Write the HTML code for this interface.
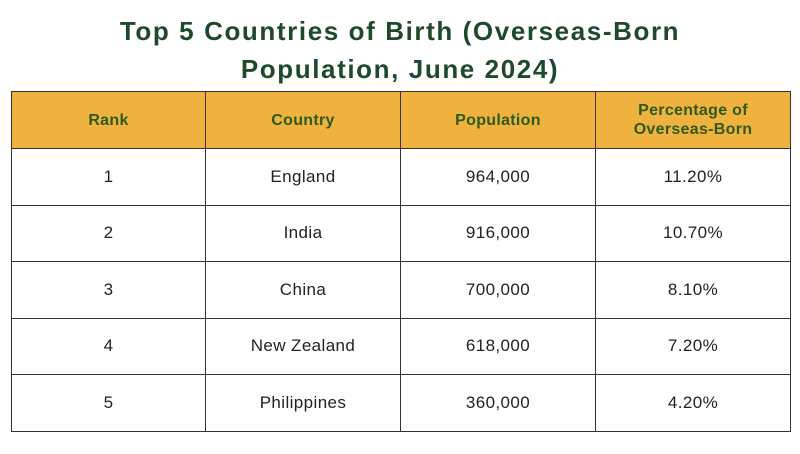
<!DOCTYPE html>
<html><head><meta charset="utf-8"><style>
html,body{margin:0;padding:0;background:#fff;width:800px;height:454px;overflow:hidden}
.t{position:absolute;left:0;width:800px;text-align:center;font-family:"Liberation Sans",sans-serif;font-weight:bold;font-size:26px;letter-spacing:1.6px;color:#1f4a2a;}
table{position:absolute;left:11px;top:91px;width:779px;border-collapse:collapse;font-family:"Liberation Sans",sans-serif;table-layout:fixed}
td,th{border:1.5px solid #333;text-align:center;padding:0}
th{background:#efb23f;color:#2e5a1c;font-size:16px;font-weight:bold;height:56px;line-height:19px;letter-spacing:0.3px}
td{height:55.5px;font-size:17px;color:#222;letter-spacing:0.4px}
</style></head><body>
<div class="t" style="top:16px">Top 5 Countries of Birth (Overseas-Born</div>
<div class="t" style="top:54px">Population, June 2024)</div>
<table>
<colgroup><col style="width:194px"><col style="width:195px"><col style="width:195px"><col style="width:195px"></colgroup>
<tr><th>Rank</th><th>Country</th><th>Population</th><th>Percentage of<br>Overseas-Born</th></tr>
<tr><td>1</td><td>England</td><td>964,000</td><td>11.20%</td></tr>
<tr><td>2</td><td>India</td><td>916,000</td><td>10.70%</td></tr>
<tr><td>3</td><td>China</td><td>700,000</td><td>8.10%</td></tr>
<tr><td>4</td><td>New Zealand</td><td>618,000</td><td>7.20%</td></tr>
<tr><td>5</td><td>Philippines</td><td>360,000</td><td>4.20%</td></tr>
</table>
</body></html>
